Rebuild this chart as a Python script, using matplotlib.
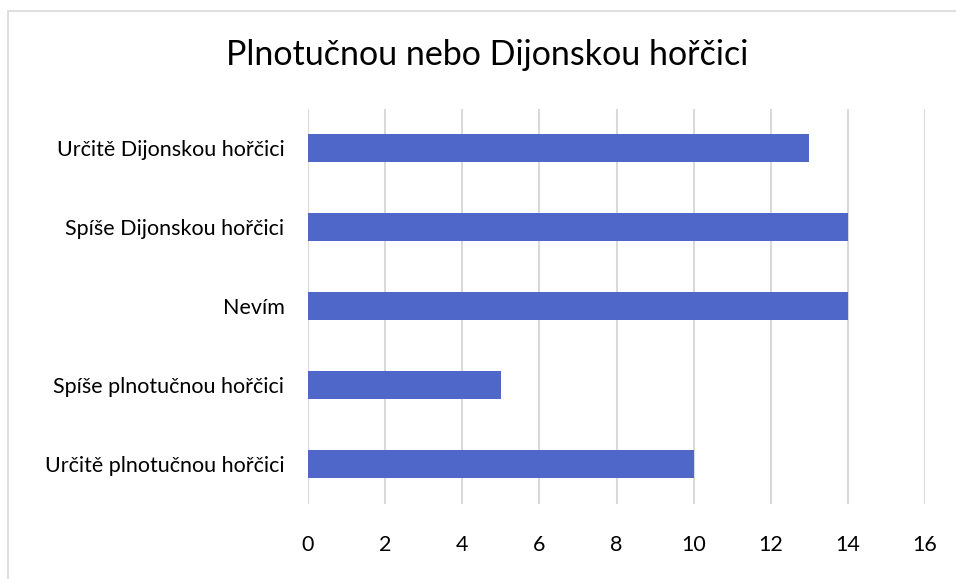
import matplotlib
matplotlib.use("Agg")
import matplotlib.pyplot as plt
from matplotlib.patches import Rectangle

# datos del grafico (de abajo hacia arriba)
categorias = ["Určitě plnotučnou hořčici", "Spíše plnotučnou hořčici", "Nevím",
              "Spíše Dijonskou hořčici", "Určitě Dijonskou hořčici"]
valores = [10, 5, 14, 14, 13]
ticks_x = [0, 2, 4, 6, 8, 10, 12, 14, 16]

plt.rcParams['font.family'] = ['Lato', 'DejaVu Sans']

fig = plt.figure(figsize=(9.56, 5.79), dpi=100)
ax = fig.add_axes([308 / 956, 1 - 503.5 / 579, (925 - 308) / 956, (503.5 - 108.5) / 579])

# borde del area del grafico
fig.patches.append(Rectangle((7.5 / 956, -0.1), 1.2, 1 - 10.5 / 579 + 0.1,
                             transform=fig.transFigure, fill=False,
                             edgecolor="#D9D9D9", linewidth=1.2))

ax.barh(range(len(categorias)), valores, height=0.355, color="#4E67C8", zorder=3)

ax.set_xlim(0, 16)
ax.set_ylim(-0.5, len(categorias) - 0.5)
ax.set_xticks(ticks_x)
ax.set_yticks(range(len(categorias)))
ax.set_yticklabels(categorias)
ax.grid(axis="x", color="#D9D9D9", linewidth=1.5, zorder=0)
for s in ax.spines.values():
    s.set_visible(False)
ax.tick_params(axis="both", length=0, labelsize=15.5, colors="black")
ax.tick_params(axis="x", pad=23)
ax.tick_params(axis="y", pad=17)

fig.text(487.5 / 956, 1 - 65 / 579, "Plnotučnou nebo Dijonskou hořčici",
         ha="center", va="baseline", fontsize=24.5)

fig.savefig("out.png", dpi=100)
